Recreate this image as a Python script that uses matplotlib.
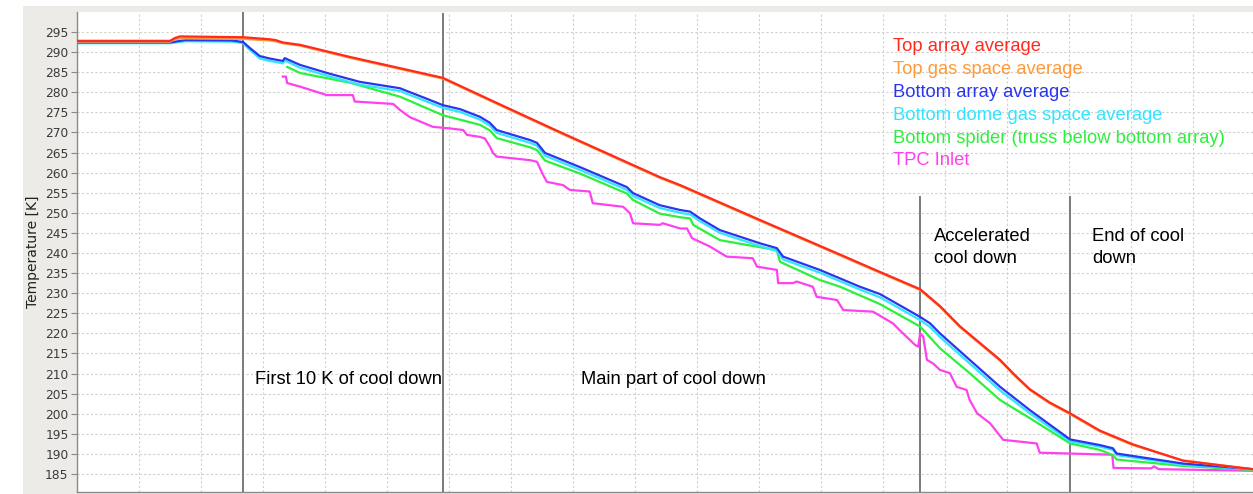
import matplotlib
matplotlib.use("Agg")
import matplotlib.pyplot as plt
from matplotlib.patches import Rectangle

# ---------------- data (time in grid units, temperature in K) ----------------
red_t = [0, 1.50, 1.58, 1.66, 2.68, 3.10, 3.20, 3.32, 3.60, 4.40, 5.21, 5.90, 6.82, 7.79,
         9.40, 9.73, 11.02, 12.31, 12.95, 13.60, 13.92, 14.24, 14.89, 15.13, 15.37, 15.69,
         16.02, 16.50, 17.03, 17.84, 18.97]
red_T = [292.8, 292.8, 293.5, 293.9, 293.7, 293.2, 293.0, 292.4, 291.8, 288.8, 286.0, 283.6,
         277.0, 270.1, 258.9, 256.9, 248.2, 239.6, 235.3, 231.0, 226.8, 221.8, 213.4, 209.6,
         206.1, 202.8, 200.1, 195.8, 192.4, 188.3, 186.2]

orange_T = [292.6, 292.6, 293.2, 293.4, 293.3, 292.9, 292.7, 292.2, 291.6, 288.6, 285.8, 283.4,
            276.8, 269.9, 258.7, 256.7, 248.0, 239.4, 235.1, 230.8, 226.6, 221.6, 213.2, 209.4,
            205.9, 202.6, 199.9, 195.6, 192.2, 188.4, 186.1]

blue_t = [0, 1.50, 1.75, 2.50, 2.68, 2.79, 2.95, 3.11, 3.32, 3.35, 3.60, 4.08, 4.56, 5.21,
          5.69, 5.90, 6.18, 6.50, 6.66, 6.77, 7.31, 7.42, 7.55, 8.11, 8.87, 8.97, 9.40, 9.73,
          9.89, 10.05, 10.37, 11.02, 11.29, 11.39, 11.98, 12.63, 12.95, 13.60, 13.76, 13.92,
          14.40, 14.89, 15.37, 16.02, 16.50, 16.71, 16.77, 17.84, 18.97]
blue_T = [292.4, 292.4, 293.0, 292.9, 292.5, 291.0, 289.0, 288.4, 287.8, 288.5, 286.8, 284.6,
          282.6, 281.0, 278.1, 276.8, 275.8, 273.9, 272.4, 270.6, 268.1, 267.4, 264.9, 261.4,
          256.4, 254.9, 251.9, 250.7, 250.3, 248.6, 245.7, 242.4, 241.2, 239.1, 235.8, 231.6,
          229.8, 224.1, 222.5, 220.0, 213.4, 206.7, 200.9, 193.6, 192.2, 191.4, 190.1, 187.6,
          186.2]

cyan_T = [292.2, 292.2, 292.7, 292.6, 292.2, 290.5, 288.4, 287.8, 287.2, 287.9, 286.1, 283.9,
          281.9, 280.3, 277.4, 276.1, 275.1, 273.2, 271.7, 269.9, 267.4, 266.7, 264.2, 260.7,
          255.7, 254.2, 251.2, 250.0, 249.6, 247.9, 245.0, 241.7, 240.5, 238.4, 235.1, 230.9,
          229.0, 223.3, 221.6, 219.1, 212.5, 205.8, 200.1, 193.1, 191.8, 191.0, 189.7, 187.3,
          186.1]

green_t = [3.39, 3.60, 4.40, 5.21, 5.90, 6.50, 6.66, 6.77, 7.31, 7.42, 7.55, 8.11, 8.87, 8.97,
           9.40, 9.73, 9.89, 9.94, 10.37, 11.29, 11.34, 11.98, 12.31, 12.95, 13.60, 13.92,
           14.40, 14.89, 15.37, 16.02, 16.50, 16.71, 16.77, 17.84, 18.97]
green_T = [286.3, 284.8, 282.4, 278.9, 274.3, 271.9, 270.5, 268.6, 266.3, 265.6, 263.0, 259.8,
           254.8, 253.2, 249.8, 248.9, 248.6, 247.0, 243.2, 240.7, 237.8, 233.3, 231.6, 227.3,
           221.7, 216.3, 210.1, 203.4, 198.9, 192.6, 191.0, 189.7, 188.6, 187.0, 186.0]

magenta_t = [3.32, 3.37, 3.39, 3.60, 4.03, 4.45, 4.48, 5.10, 5.21, 5.37, 5.74, 6.02, 6.23,
             6.29, 6.50, 6.58, 6.66, 6.71, 6.77, 7.31, 7.42, 7.52, 7.58, 7.84, 7.95, 8.27,
             8.32, 8.81, 8.92, 8.97, 9.40, 9.45, 9.73, 9.84, 9.92, 10.21, 10.48, 10.90, 10.97,
             11.29, 11.31, 11.55, 11.61, 11.87, 11.93, 12.26, 12.36, 12.84, 13.16, 13.27, 13.52,
             13.57, 13.60, 13.65, 13.71, 13.81, 13.92, 14.08, 14.19, 14.35, 14.40, 14.52, 14.73,
             14.94, 15.48, 15.53, 16.70, 16.72, 17.33, 17.37, 17.45, 18.97]
magenta_T = [283.9, 283.9, 282.3, 281.4, 279.3, 279.3, 277.7, 277.1, 275.6, 273.8, 271.4, 271.0,
             270.6, 269.4, 268.9, 268.5, 266.5, 264.9, 264.0, 263.1, 262.7, 259.4, 257.7, 256.9,
             255.7, 255.3, 252.4, 251.5, 249.9, 247.4, 247.0, 247.4, 246.1, 246.1, 243.7, 241.6,
             239.1, 238.7, 236.6, 235.8, 232.5, 232.5, 232.9, 231.6, 229.1, 228.3, 225.8, 225.4,
             222.5, 220.8, 217.1, 216.7, 220.0, 219.2, 213.4, 212.5, 210.9, 210.1, 206.7, 205.9,
             203.4, 200.1, 197.6, 193.5, 192.6, 190.3, 189.8, 186.5, 186.4, 186.9, 186.2, 185.8]

series_labels = ["Top array average", "Top gas space average", "Bottom array average",
                 "Bottom dome gas space average", "Bottom spider (truss below bottom array)",
                 "TPC Inlet"]
series_colors = ["#ff2a1f", "#ff9a3a", "#2a35f0", "#2ee6ff", "#2cf03c", "#ff40f0"]

phase_lines = [2.68, 5.90, 13.60, 16.02]
phase_labels = ["First 10 K of cool down", "Main part of cool down",
                "Accelerated\ncool down", "End of cool\ndown"]
y_ticks = list(range(185, 300, 5))

# ---------------- figure ----------------
W, H = 1253, 494
fig = plt.figure(figsize=(W / 100, H / 100), dpi=100)
fig.patch.set_facecolor("white")
fig.add_artist(Rectangle((23 / W, 0), 1 - 23 / W, (H - 6) / H, transform=fig.transFigure,
                         facecolor="#ecebe7", edgecolor="none", zorder=0))

ax = fig.add_axes([77 / W, 2 / H, (W - 77) / W, 480 / H])
ax.set_facecolor("white")
ax.set_xlim(0, 18.97)
ax.set_ylim(180.52, 299.98)

ax.set_yticks(y_ticks)
ax.set_yticklabels([str(v) for v in y_ticks], fontsize=8.8, color="#3a3a3a",
                   fontfamily="DejaVu Sans")
ax.tick_params(axis="y", length=4, width=0.8, color="#888888", pad=2)
ax.set_xticks(range(0, 19))
ax.tick_params(axis="x", length=0, labelbottom=False)
ax.grid(True, color="#cfcfcf", linestyle=(0, (2, 2)), linewidth=0.8)
ax.set_axisbelow(True)
for s in ["left", "bottom"]:
    ax.spines[s].set_color("#8a8a8a")
    ax.spines[s].set_linewidth(1.0)
ax.spines["top"].set_visible(False)
ax.spines["right"].set_visible(False)

ax.set_ylabel("Temperature [K]", fontsize=10, color="#222222", labelpad=4)

# phase separators
ylo, yhi = ax.get_ylim()
frac = (253.9 - ylo) / (yhi - ylo)
ax.axvline(phase_lines[0], color="#7a7a7a", lw=1.4, zorder=1)
ax.axvline(phase_lines[1], color="#7a7a7a", lw=1.4, ymax=0.995, zorder=1)
ax.axvline(phase_lines[2], color="#7a7a7a", lw=1.4, ymax=frac, zorder=1)
ax.axvline(phase_lines[3], color="#7a7a7a", lw=1.4, ymax=frac, zorder=1)

# curves
lw = 1.6
ax.plot(magenta_t, magenta_T, color=series_colors[5], lw=lw, zorder=3)
ax.plot(green_t, green_T, color=series_colors[4], lw=lw, zorder=4)
ax.plot(blue_t, cyan_T, color=series_colors[3], lw=lw, zorder=5)
ax.plot(blue_t, blue_T, color=series_colors[2], lw=lw, zorder=6)
ax.plot(red_t, orange_T, color=series_colors[1], lw=lw, zorder=7)
ax.plot(red_t, red_T, color=series_colors[0], lw=lw, zorder=8)

# legend-like colored text
tf = "Liberation Sans"
fs = 13.2
for i, (lab, col) in enumerate(zip(series_labels, series_colors)):
    ax.text(13.16, 291.5 - i * 5.72, lab, color=col, fontsize=fs, fontfamily=tf,
            va="center", ha="left", zorder=10)

# phase annotations
ax.text(2.87, 208.6, phase_labels[0], fontsize=fs, fontfamily=tf, va="center", ha="left")
ax.text(8.13, 208.6, phase_labels[1], fontsize=fs, fontfamily=tf, va="center", ha="left")
l1, l2 = phase_labels[2].split("\n")
ax.text(13.82, 244.2, l1, fontsize=fs, fontfamily=tf, va="center", ha="left")
ax.text(13.82, 238.7, l2, fontsize=fs, fontfamily=tf, va="center", ha="left")
l1, l2 = phase_labels[3].split("\n")
ax.text(16.37, 244.2, l1, fontsize=fs, fontfamily=tf, va="center", ha="left")
ax.text(16.37, 238.7, l2, fontsize=fs, fontfamily=tf, va="center", ha="left")

fig.savefig("out.png", dpi=100, facecolor=fig.get_facecolor())
